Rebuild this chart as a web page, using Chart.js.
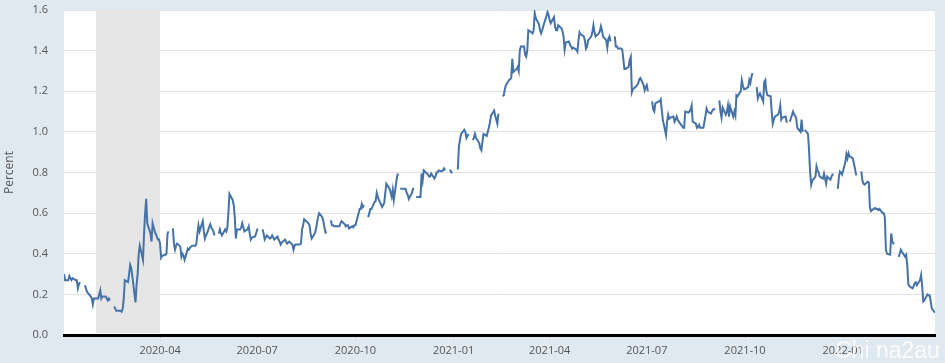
<!DOCTYPE html>
<html>
<head>
<meta charset="utf-8">
<script src="https://cdn.jsdelivr.net/npm/chart.js@4.4.1/dist/chart.umd.min.js"></script>
<style>
  html, body { margin: 0; padding: 0; background: #e1e9f0; }
  #wrap { width: 945px; height: 363px; }
</style>
</head>
<body>
<div id="wrap"><canvas id="chart"></canvas></div>
<script>
// daily spread, one row per month; null = market holiday (line breaks there)
const months = [
  '2020-01', '2020-02', '2020-03', '2020-04', '2020-05', '2020-06', '2020-07', '2020-08', '2020-09',
  '2020-10', '2020-11', '2020-12', '2021-01', '2021-02', '2021-03', '2021-04', '2021-05', '2021-06',
  '2021-07', '2021-08', '2021-09', '2021-10', '2021-11', '2021-12', '2022-01', '2022-02', '2022-03'
];

const days = [
  [2, 3, 6, 7, 8, 9, 10, 13, 14, 15, 16, 17, 20, 21, 22, 23, 24, 27, 28, 29, 30, 31],
  [3, 4, 5, 6, 7, 10, 11, 12, 13, 14, 17, 18, 19, 20, 21, 24, 25, 26, 27, 28],
  [2, 3, 4, 5, 6, 9, 10, 11, 12, 13, 16, 17, 18, 19, 20, 23, 24, 25, 26, 27, 30, 31],
  [1, 2, 3, 6, 7, 8, 9, 10, 13, 14, 15, 16, 17, 20, 21, 22, 23, 24, 27, 28, 29, 30],
  [1, 4, 5, 6, 7, 8, 11, 12, 13, 14, 15, 18, 19, 20, 21, 22, 25, 26, 27, 28, 29],
  [1, 2, 3, 4, 5, 8, 9, 10, 11, 12, 15, 16, 17, 18, 19, 22, 23, 24, 25, 26, 29, 30],
  [1, 2, 3, 6, 7, 8, 9, 10, 13, 14, 15, 16, 17, 20, 21, 22, 23, 24, 27, 28, 29, 30, 31],
  [3, 4, 5, 6, 7, 10, 11, 12, 13, 14, 17, 18, 19, 20, 21, 24, 25, 26, 27, 28, 31],
  [1, 2, 3, 4, 7, 8, 9, 10, 11, 14, 15, 16, 17, 18, 21, 22, 23, 24, 25, 28, 29, 30],
  [1, 2, 5, 6, 7, 8, 9, 12, 13, 14, 15, 16, 19, 20, 21, 22, 23, 26, 27, 28, 29, 30],
  [2, 3, 4, 5, 6, 9, 10, 11, 12, 13, 16, 17, 18, 19, 20, 23, 24, 25, 26, 27, 30],
  [1, 2, 3, 4, 7, 8, 9, 10, 11, 14, 15, 16, 17, 18, 21, 22, 23, 24, 25, 28, 29, 30, 31],
  [1, 4, 5, 6, 7, 8, 11, 12, 13, 14, 15, 18, 19, 20, 21, 22, 25, 26, 27, 28, 29],
  [1, 2, 3, 4, 5, 8, 9, 10, 11, 12, 15, 16, 17, 18, 19, 22, 23, 24, 25, 26],
  [1, 2, 3, 4, 5, 8, 9, 10, 11, 12, 15, 16, 17, 18, 19, 22, 23, 24, 25, 26, 29, 30, 31],
  [1, 2, 5, 6, 7, 8, 9, 12, 13, 14, 15, 16, 19, 20, 21, 22, 23, 26, 27, 28, 29, 30],
  [3, 4, 5, 6, 7, 10, 11, 12, 13, 14, 17, 18, 19, 20, 21, 24, 25, 26, 27, 28, 31],
  [1, 2, 3, 4, 7, 8, 9, 10, 11, 14, 15, 16, 17, 18, 21, 22, 23, 24, 25, 28, 29, 30],
  [1, 2, 5, 6, 7, 8, 9, 12, 13, 14, 15, 16, 19, 20, 21, 22, 23, 26, 27, 28, 29, 30],
  [2, 3, 4, 5, 6, 9, 10, 11, 12, 13, 16, 17, 18, 19, 20, 23, 24, 25, 26, 27, 30, 31],
  [1, 2, 3, 6, 7, 8, 9, 10, 13, 14, 15, 16, 17, 20, 21, 22, 23, 24, 27, 28, 29, 30],
  [1, 4, 5, 6, 7, 8, 11, 12, 13, 14, 15, 18, 19, 20, 21, 22, 25, 26, 27, 28, 29],
  [1, 2, 3, 4, 5, 8, 9, 10, 11, 12, 15, 16, 17, 18, 19, 22, 23, 24, 25, 26, 29, 30],
  [1, 2, 3, 6, 7, 8, 9, 10, 13, 14, 15, 16, 17, 20, 21, 22, 23, 24, 27, 28, 29, 30, 31],
  [3, 4, 5, 6, 7, 10, 11, 12, 13, 14, 17, 18, 19, 20, 21, 24, 25, 26, 27, 28, 31],
  [1, 2, 3, 4, 7, 8, 9, 10, 11, 14, 15, 16, 17, 18, 21, 22, 23, 24, 25, 28],
  [1, 2, 3, 4, 7, 8, 9, 10, 11, 14, 15, 16, 17, 18, 21, 22, 23, 24, 25, 28]
];

const values = [
  [.30, .27, .27, .29, .28, .27, .28, .27, .27, .23, .25, .26, null, .24, .24, .22, .21, .19, .18, .15, .18, .18],
  [.18, .20, .22, .18, .19, .19, .18, .17, .18, .17, null, .14, .13, .12, .12, .12, .115, .13, .18, .27],
  [.26, .30, .345, .33, .29, .16, .25, .30, .40, .44, .37, .50, .60, .67, .55, .50, .46, .55, .53, .51, .47, .47],
  [.45, .38, .39, .395, .40, .50, .51, null, .525, .45, .42, .44, .45, .435, .385, .40, .39, .37, .425, .42, .43, .435],
  [.44, .44, .45, .50, .54, .51, .56, .51, .475, .49, .50, .545, .53, .52, .51, .49, null, .50, .52, .50, .49],
  [.52, .51, .525, .60, .695, .665, .64, .58, .475, .52, .52, .53, .55, .53, .51, .52, .535, .50, .47, .48, .485, .50],
  [.52, .52, null, .52, .50, .47, .48, .49, .475, .48, .49, .48, .47, .485, .47, .46, .445, .455, .47, .46, .45, .455, .46],
  [.445, .42, .44, .445, .445, .445, .45, .52, .54, .57, .555, .55, .54, .50, .475, .50, .52, .55, .58, .60, .58],
  [.56, .53, .505, .51, null, .565, .54, .54, .535, .535, .535, .535, .55, .56, .545, .535, .54, .54, .525, .535, .53, .54],
  [.54, .56, .62, .62, .645, .63, .64, null, .58, .60, .62, .62, .655, .66, .70, .68, .665, .63, .64, .65, .70, .745],
  [.72, .70, .68, .715, .665, .78, .795, null, .72, .72, .72, .72, .70, .69, .67, .70, .72, .72, null, .68, .68],
  [.68, .795, .76, .81, .795, .79, .78, .78, .795, .77, .78, .80, .80, .81, .805, .81, .82, .81, null, .81, .81, .80, .80],
  [null, .82, .82, .93, .96, .99, 1.01, 1.00, .97, .98, .99, null, .96, .97, .99, .97, .945, .92, .91, .95, .99],
  [.98, 1.00, 1.02, 1.045, 1.08, 1.105, 1.08, 1.06, 1.04, 1.09, null, 1.175, 1.18, 1.21, 1.23, 1.255, 1.26, 1.265, 1.36, 1.295],
  [1.31, 1.32, 1.30, 1.40, 1.42, 1.42, 1.38, 1.37, 1.40, 1.50, 1.49, 1.485, 1.50, 1.585, 1.56, 1.53, 1.50, 1.485, 1.50, 1.52, 1.57, 1.59, 1.575],
  [1.55, 1.535, 1.565, 1.52, 1.50, 1.50, 1.525, 1.51, 1.495, 1.47, 1.405, 1.44, 1.445, 1.43, 1.42, 1.41, 1.415, 1.405, 1.395, 1.45, 1.49, 1.48],
  [1.47, 1.45, 1.41, 1.42, 1.45, 1.47, 1.49, 1.525, 1.49, 1.47, 1.485, 1.495, 1.52, 1.50, 1.47, 1.45, 1.415, 1.46, 1.47, 1.445, null],
  [1.47, 1.42, 1.42, 1.41, 1.41, 1.405, 1.36, 1.31, 1.31, 1.32, 1.355, 1.37, 1.195, 1.21, 1.225, 1.23, 1.24, 1.26, 1.265, 1.23, 1.205, 1.22],
  [1.23, 1.20, null, 1.15, 1.11, 1.10, 1.14, 1.15, 1.15, 1.16, 1.11, 1.06, .985, 1.05, 1.085, 1.065, 1.07, 1.075, 1.05, 1.06, 1.075, 1.06],
  [1.035, 1.03, 1.02, 1.02, 1.10, 1.095, 1.10, 1.11, 1.13, 1.05, 1.04, 1.02, 1.025, 1.035, 1.02, 1.02, 1.05, 1.08, 1.115, 1.10, 1.09, 1.10],
  [1.11, 1.11, 1.115, null, 1.155, 1.10, 1.07, 1.12, 1.085, 1.10, 1.13, 1.075, 1.125, 1.075, 1.10, 1.08, 1.18, 1.175, 1.20, 1.255, 1.23, 1.21],
  [1.21, 1.22, 1.255, 1.24, 1.27, 1.29, null, 1.22, 1.165, 1.18, 1.19, 1.15, 1.245, 1.255, 1.20, 1.18, 1.175, 1.10, 1.04, 1.06, 1.075],
  [1.085, 1.10, 1.13, 1.06, 1.07, 1.075, 1.05, 1.05, null, 1.05, 1.10, 1.085, 1.08, 1.065, 1.02, 1.00, 1.06, 1.00, null, 1.01, .99, .91],
  [.80, .74, .76, .78, .83, .81, .80, .78, .77, .795, .77, .745, .78, .765, .78, .79, .79, null, .72, .78, .805, .80, .79],
  [.85, .89, .87, .895, .88, .87, .845, .82, .79, .79, null, .805, .76, .745, .74, .755, .75, .63, .61, .615, .625],
  [.62, .62, .615, .62, .60, .60, .58, .42, .40, .395, .50, .46, .45, .45, null, .385, .40, .42, .41, .385],
  [.395, .345, .25, .24, .23, .24, .255, .26, .245, .27, .295, .24, .165, .17, .20, .195, .195, .165, .13, .11]
];

const tickLabels = ['2020-04', '2020-07', '2020-10', '2021-01', '2021-04', '2021-07', '2021-10', '2022-01'];
const recession = ['2020-02-01', '2020-04-01'];
const firstDate = '2020-01-02';
const lastDate = '2022-03-28';

function dayOf(s) {
  const [y, m, d] = s.split('-').map(Number);
  return (Date.UTC(y, m - 1, d || 1) - Date.UTC(2020, 0, 1)) / 86400000;
}

const points = [];
months.forEach((m, i) => {
  days[i].forEach((d, j) => {
    points.push({ x: dayOf(m + '-' + String(d).padStart(2, '0')), y: values[i][j] });
  });
});

const tickMap = new Map(tickLabels.map(l => [dayOf(l + '-01'), l]));

const fred = {
  id: 'fred',
  beforeDraw(chart) {
    const { ctx, chartArea: a } = chart;
    ctx.save();
    ctx.fillStyle = '#ffffff';
    ctx.fillRect(a.left, a.top, a.right - a.left, a.bottom - a.top);
    ctx.restore();
  },
  beforeDatasetsDraw(chart) {
    // recession shading sits over the grid lines
    const { ctx, chartArea: a, scales: { x } } = chart;
    const x0 = x.getPixelForValue(dayOf(recession[0]));
    const x1 = x.getPixelForValue(dayOf(recession[1]));
    ctx.save();
    ctx.fillStyle = '#e6e6e6';
    ctx.fillRect(x0, a.top, x1 - x0, a.bottom - a.top - 2);
    ctx.restore();
  },
  afterDraw(chart) {
    const { ctx } = chart;
    ctx.save();
    ctx.font = '23px "Liberation Sans"';
    ctx.fillStyle = 'rgba(255,255,255,0.8)';
    ctx.textBaseline = 'alphabetic';
    ctx.fillText('Chi na2au', 835, 358);
    ctx.restore();
  }
};

new Chart(document.getElementById('chart'), {
  type: 'line',
  data: {
    datasets: [{
      label: 'Percent',
      data: points,
      borderColor: '#4572a7',
      borderWidth: 2,
      pointRadius: 0,
      tension: 0,
      spanGaps: false
    }]
  },
  options: {
    responsive: true,
    maintainAspectRatio: false,
    animation: false,
    layout: { padding: { top: 10, right: 10, left: 0, bottom: 0 } },
    plugins: {
      legend: { display: false },
      tooltip: { enabled: false }
    },
    scales: {
      x: {
        type: 'linear',
        min: dayOf(firstDate),
        max: dayOf(lastDate),
        afterBuildTicks: (scale) => {
          scale.ticks = tickLabels.map(l => ({ value: dayOf(l + '-01') }));
        },
        afterFit: (scale) => {
          scale.height = 28;
          scale.paddingLeft = 0;
          scale.paddingRight = 0;
        },
        ticks: {
          callback: (v) => tickMap.get(v) || '',
          color: '#555',
          font: { family: 'Open Sans', size: 11 },
          padding: 3,
          maxRotation: 0,
          autoSkip: false
        },
        grid: {
          drawOnChartArea: false,
          drawTicks: true,
          tickLength: 6,
          color: '#b8c6d4',
          tickBorderDash: [1, 2]
        },
        border: { display: true, color: '#000', width: 3 }
      },
      y: {
        min: 0,
        max: 1.6,
        afterFit: (scale) => {
          scale.width = 64;
          scale.paddingTop = 0;
          scale.paddingBottom = 0;
        },
        ticks: {
          stepSize: 0.2,
          callback: (v) => v.toFixed(1),
          color: '#555',
          font: { family: 'Open Sans', size: 11 },
          padding: 16
        },
        grid: { color: '#e3e3e3', drawTicks: false },
        border: { display: false },
        title: {
          display: true,
          text: 'Percent',
          color: '#555',
          font: { family: 'Open Sans', size: 12 },
          padding: { top: 2, bottom: 0 }
        }
      }
    }
  },
  plugins: [fred]
});
</script>
</body>
</html>
